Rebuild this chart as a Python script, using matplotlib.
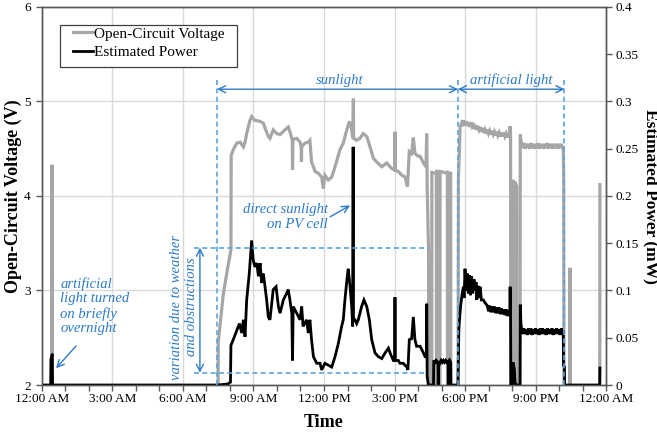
import matplotlib
matplotlib.use("Agg")
import matplotlib.pyplot as plt
from matplotlib.lines import Line2D
from matplotlib.patches import Rectangle

plt.rcParams["font.family"] = ["Liberation Serif", "DejaVu Serif"]

# ---- open-circuit voltage (V) vs. time of day (hours) ----
ocv_hours = [
    0.00, 0.41, 0.43, 0.45,
    7.46, 7.50, 7.57, 7.71, 7.86, 8.00, 8.04, 8.05, 8.14, 8.29, 8.43, 8.57,
    8.64, 8.71, 8.85, 8.92, 9.06, 9.28, 9.42, 9.49, 9.63, 9.70, 9.84, 9.99,
    10.13, 10.34, 10.48, 10.55, 10.65, 10.66, 10.68, 10.84, 10.98, 11.03,
    11.04, 11.05, 11.19, 11.33, 11.40, 11.43, 11.47, 11.55, 11.62, 11.76,
    11.90, 11.97, 12.04, 12.18, 12.33, 12.47, 12.68, 12.82, 12.97, 13.08,
    13.18, 13.23, 13.25, 13.26, 13.39, 13.53, 13.67, 13.82, 13.96, 14.10,
    14.24, 14.46, 14.67, 14.88, 15.01, 15.02, 15.03, 15.16, 15.31, 15.45,
    15.55, 15.63, 15.73, 15.80, 15.87, 16.01, 16.09, 16.23, 16.34, 16.37,
    16.39, 16.43, 16.45, 16.46,
    16.58, 16.59, 16.78, 16.79, 16.80, 16.91, 16.92, 16.94, 17.25, 17.26,
    17.28, 17.39, 17.40,
    17.69, 17.72, 17.77,
    17.79, 17.85, 17.90, 17.95, 18.00, 18.05, 18.10, 18.15, 18.20, 18.25,
    18.30, 18.35, 18.40, 18.45, 18.50, 18.55, 18.60, 18.65, 18.70, 18.75,
    18.80, 18.85, 18.90, 18.95, 19.00, 19.05, 19.10, 19.15, 19.20, 19.25,
    19.30, 19.35, 19.40, 19.45, 19.50, 19.55, 19.60, 19.65, 19.70, 19.75,
    19.80, 19.85, 19.90, 19.92, 19.94, 19.95,
    20.03, 20.04, 20.10, 20.11, 20.13, 20.20, 20.21, 20.34, 20.35, 20.40,
    20.45, 20.50, 20.55, 20.60, 20.65, 20.70, 20.75, 20.80, 20.85, 20.90,
    20.95, 21.00, 21.05, 21.10, 21.15, 21.20, 21.25, 21.30, 21.35, 21.40,
    21.45, 21.50, 21.55, 21.60, 21.65, 21.70, 21.75, 21.80, 21.85, 21.90,
    21.95, 22.00, 22.05, 22.10, 22.15, 22.18, 22.20, 22.22,
    22.46, 22.47, 22.48, 23.73, 23.74,
]
ocv_volts = [
    0.00, 0.00, 4.33, 0.00,
    0.00, 2.45, 2.62, 2.95, 3.18, 3.37, 3.43, 4.43, 4.49, 4.56, 4.57, 4.52,
    4.57, 4.66, 4.80, 4.84, 4.80, 4.79, 4.77, 4.72, 4.63, 4.61, 4.70, 4.66,
    4.65, 4.70, 4.73, 4.68, 4.59, 4.28, 4.60, 4.61, 4.57, 4.52,
    4.36, 4.52, 4.56, 4.57, 4.59, 4.49, 4.36, 4.31, 4.26, 4.24,
    4.20, 4.08, 4.22, 4.17, 4.20, 4.31, 4.49, 4.56, 4.70, 4.79,
    4.70, 4.61, 5.03, 4.61, 4.59, 4.61, 4.66, 4.63, 4.52, 4.40,
    4.36, 4.31, 4.35, 4.29, 4.28, 4.68, 4.27, 4.26, 4.22, 4.20,
    4.10, 4.47, 4.45, 4.62, 4.45, 4.42, 4.42, 4.35, 4.31, 4.66,
    4.10, 3.64, 3.40, 0.00,
    0.00, 4.25, 4.24, 0.00, 4.26, 4.25, 0.00, 4.26, 4.24, 0.00,
    4.25, 4.24, 0.00,
    0.00, 4.20, 4.55,
    4.73, 4.77, 4.74, 4.80, 4.75, 4.79, 4.74, 4.78, 4.73, 4.78,
    4.74, 4.77, 4.71, 4.75, 4.70, 4.74, 4.70, 4.73, 4.68, 4.72,
    4.67, 4.70, 4.66, 4.70, 4.66, 4.69, 4.65, 4.69, 4.65, 4.68,
    4.64, 4.68, 4.64, 4.67, 4.63, 4.67, 4.63, 4.67, 4.63, 4.66,
    4.62, 4.66, 4.62, 4.74, 4.62, 0.00,
    0.00, 4.17, 4.12, 0.00, 4.15, 4.10, 0.00, 0.00, 4.65, 4.55,
    4.51, 4.56, 4.50, 4.55, 4.51, 4.55, 4.50, 4.56, 4.51, 4.55,
    4.50, 4.55, 4.51, 4.56, 4.50, 4.55, 4.51, 4.55, 4.50, 4.55,
    4.51, 4.56, 4.50, 4.55, 4.51, 4.55, 4.50, 4.55, 4.51, 4.55,
    4.50, 4.55, 4.51, 4.55, 4.50, 4.53, 4.17, 0.00,
    0.00, 3.24, 0.00, 0.00, 4.12,
]

# ---- estimated power (mW) vs. time of day (hours) ----
power_hours = [
    0.00, 0.37, 0.38, 0.43, 0.44, 0.45,
    7.46, 7.90, 8.02, 8.04, 8.14, 8.29, 8.40, 8.50, 8.57, 8.64, 8.71, 8.82,
    8.92, 8.99, 9.06, 9.14, 9.21, 9.28, 9.35, 9.42, 9.49, 9.56, 9.63, 9.70,
    9.84, 9.96, 10.06, 10.13, 10.27, 10.41, 10.48, 10.55, 10.63, 10.66,
    10.69, 10.84, 10.98, 11.05, 11.11, 11.26, 11.33, 11.40, 11.47, 11.55,
    11.69, 11.83, 11.90, 12.04, 12.18, 12.33, 12.47, 12.61, 12.75, 12.82,
    12.89, 12.99, 13.03, 13.11, 13.18, 13.22, 13.24, 13.25, 13.32, 13.39,
    13.46, 13.60, 13.70, 13.82, 13.93, 14.03, 14.17, 14.31, 14.46, 14.60,
    14.74, 14.81, 14.95, 15.01, 15.02, 15.03, 15.16, 15.23, 15.37, 15.52,
    15.57, 15.63, 15.73, 15.80, 15.87, 15.94, 16.09, 16.23, 16.30, 16.36,
    16.37, 16.39, 16.44,
    16.66, 16.67, 16.72, 16.77, 16.82, 16.85, 16.86, 16.88, 16.93, 16.98,
    17.03, 17.08, 17.13, 17.18, 17.23, 17.28, 17.29, 17.31, 17.35, 17.39,
    17.40,
    17.70, 17.74, 17.81, 17.87, 17.93, 17.96, 18.00, 18.04, 18.09, 18.14,
    18.19, 18.23, 18.28, 18.33, 18.38, 18.43, 18.47, 18.50, 18.55, 18.60,
    18.64, 18.70, 18.78, 18.85, 18.92,
    18.95, 19.00, 19.05, 19.10, 19.15, 19.20, 19.25, 19.30, 19.35, 19.40,
    19.45, 19.50, 19.55, 19.60, 19.65, 19.70, 19.75, 19.80, 19.85, 19.90,
    19.92, 19.94, 19.95,
    20.03, 20.04, 20.07, 20.10, 20.13, 20.20, 20.34, 20.35, 20.38, 20.42,
    20.45, 20.50, 20.55, 20.60, 20.65, 20.70, 20.75, 20.80, 20.85, 20.90,
    20.95, 21.00, 21.05, 21.10, 21.15, 21.20, 21.25, 21.30, 21.35, 21.40,
    21.45, 21.50, 21.55, 21.60, 21.65, 21.70, 21.75, 21.80, 21.85, 21.90,
    21.95, 22.00, 22.05, 22.10, 22.15, 22.18, 22.19, 22.23, 22.24,
    23.73, 23.74,
]
power_mw = [
    0.000, 0.000, 0.027, 0.032, 0.032, 0.000,
    0.000, 0.001, 0.003, 0.042, 0.048, 0.058, 0.065, 0.055, 0.069, 0.051, 0.090, 0.118,
    0.153, 0.132, 0.125, 0.129, 0.115, 0.129, 0.108, 0.118, 0.104, 0.090, 0.072, 0.069,
    0.101, 0.104, 0.083, 0.076, 0.090, 0.097, 0.101, 0.090, 0.076, 0.026,
    0.083, 0.076, 0.069, 0.083, 0.062, 0.069, 0.055, 0.069, 0.048, 0.030,
    0.023, 0.023, 0.016, 0.023, 0.021, 0.019, 0.030, 0.044, 0.062, 0.069,
    0.090, 0.115, 0.123, 0.104, 0.083, 0.062, 0.252, 0.069, 0.069, 0.065,
    0.069, 0.083, 0.090, 0.083, 0.069, 0.048, 0.034, 0.030, 0.028, 0.034,
    0.039, 0.034, 0.026, 0.026, 0.093, 0.026, 0.026, 0.023, 0.023, 0.019,
    0.016, 0.048, 0.049, 0.072, 0.048, 0.041, 0.041, 0.034, 0.030, 0.030,
    0.086, 0.009, 0.000,
    0.000, 0.026, 0.024, 0.026, 0.024, 0.025, 0.000, 0.025, 0.023, 0.026,
    0.024, 0.026, 0.024, 0.026, 0.024, 0.025, 0.000, 0.024, 0.026, 0.024,
    0.000,
    0.000, 0.060, 0.083, 0.095, 0.104, 0.092, 0.123, 0.100, 0.118, 0.097,
    0.116, 0.095, 0.115, 0.097, 0.112, 0.100, 0.109, 0.090, 0.105, 0.092,
    0.104, 0.090, 0.090, 0.087, 0.085,
    0.084, 0.078, 0.084, 0.077, 0.083, 0.077, 0.083, 0.076, 0.082, 0.076,
    0.082, 0.075, 0.081, 0.075, 0.080, 0.074, 0.080, 0.073, 0.079, 0.073,
    0.104, 0.072, 0.000,
    0.000, 0.024, 0.020, 0.017, 0.002, 0.000, 0.000, 0.085, 0.065, 0.058,
    0.054, 0.060, 0.054, 0.059, 0.053, 0.060, 0.054, 0.060, 0.053, 0.059,
    0.054, 0.060, 0.054, 0.059, 0.053, 0.060, 0.054, 0.060, 0.054, 0.059,
    0.053, 0.060, 0.054, 0.059, 0.054, 0.060, 0.053, 0.059, 0.054, 0.060,
    0.054, 0.059, 0.053, 0.060, 0.054, 0.058, 0.021, 0.019, 0.000,
    0.000, 0.018,
]

hour_ticks = [0, 3, 6, 9, 12, 15, 18, 21, 24]
hour_labels = ["12:00 AM", "3:00 AM", "6:00 AM", "9:00 AM", "12:00 PM",
               "3:00 PM", "6:00 PM", "9:00 PM", "12:00 AM"]
volt_ticks = [2, 3, 4, 5, 6]
power_ticks = [0, 0.05, 0.1, 0.15, 0.2, 0.25, 0.3, 0.35, 0.4]
power_labels = ["0", "0.05", "0.1", "0.15", "0.2", "0.25", "0.3", "0.35", "0.4"]

GRAY = "#A6A6A6"
BLUE = "#2B7BC6"
LIGHT_BLUE = "#5BA3E0"
AXIS = "#595959"
GRID = "#D9D9D9"

fig = plt.figure(figsize=(6.57, 4.34), dpi=100)
ax = fig.add_axes([0.0639, 0.1129, 0.8585, 0.8710])
ax2 = ax.twinx()

ax.plot(ocv_hours, ocv_volts, color=GRAY, lw=2.3, solid_joinstyle="miter",
        label="Open-Circuit Voltage")
ax2.plot(power_hours, power_mw, color="black", lw=2.0, solid_joinstyle="miter",
         label="Estimated Power")

ax.set_xlim(0, 24)
ax.set_ylim(2, 6)
ax2.set_ylim(0, 0.4)

ax.set_xticks(hour_ticks)
ax.set_xticklabels(hour_labels, fontsize=9.5)
ax.set_xticks(range(0, 25), minor=True)
ax.set_yticks(volt_ticks)
ax.set_yticklabels([str(v) for v in volt_ticks], fontsize=9.5)
ax2.set_yticks(power_ticks)
ax2.set_yticklabels(power_labels, fontsize=9.5)

ax.grid(True, which="major", color=GRID, lw=1.0)
ax.set_axisbelow(True)
for a in (ax, ax2):
    for s in a.spines.values():
        s.set_color(AXIS)
        s.set_linewidth(1.0)
ax.tick_params(axis="x", which="both", direction="out", length=4,
               color=AXIS, width=1.0, pad=2)
ax.tick_params(axis="y", direction="out", length=4, color=AXIS, width=1.0, pad=4)
ax2.tick_params(axis="y", direction="out", length=4, color=AXIS, width=1.0, pad=3)

ax.set_xlabel("Time", fontsize=13, fontweight="bold", labelpad=6)
ax.set_ylabel("Open-Circuit Voltage (V)", fontsize=13, fontweight="bold",
              ha="center", va="center")
ax.yaxis.set_label_coords(-0.0514, 0.5)
ax2.set_ylabel("Estimated Power (mW)", fontsize=12.5, fontweight="bold",
               rotation=270, ha="center", va="center")
ax2.yaxis.set_label_coords(1.0785, 0.5)

# legend: entries without frame, plus a fixed box around them
handles = [Line2D([], [], color=GRAY, lw=2.3), Line2D([], [], color="black", lw=2.0)]
ax2.legend(handles, ["Open-Circuit Voltage", "Estimated Power"],
           loc="upper left", bbox_to_anchor=(0.055, 0.947), borderaxespad=0,
           borderpad=0, frameon=False, fontsize=11, handlelength=1.3,
           handletextpad=0.05, labelspacing=0.32)
ax2.add_patch(Rectangle((0.0319, 0.8413), 0.3138, 0.1111, transform=ax2.transAxes,
                        fill=True, facecolor="white", edgecolor="#404040", lw=0.9,
                        zorder=4))
ax2.get_legend().set_zorder(5)

# ---- annotations (drawn in power-axis units) ----
dash = dict(color=LIGHT_BLUE, lw=1.2, ls=(0, (3, 2)), zorder=5)
for h in (7.45, 17.70, 22.23):
    ax2.plot([h, h], [0.0, 0.323], **dash)
ax2.plot([6.45, 16.47], [0.1453, 0.1453], **dash)
ax2.plot([6.45, 16.37], [0.0130, 0.0130], **dash)

arrow2 = dict(arrowstyle="<->,head_length=0.5,head_width=0.25", color=BLUE, lw=1.0,
              shrinkA=0, shrinkB=0)
ax2.annotate("", xy=(7.45, 0.313), xytext=(17.70, 0.313), arrowprops=arrow2, zorder=6)
ax2.annotate("", xy=(17.70, 0.313), xytext=(22.23, 0.313), arrowprops=arrow2, zorder=6)
ax2.annotate("", xy=(6.72, 0.1453), xytext=(6.72, 0.0130), arrowprops=arrow2, zorder=6)

text_kw = dict(color=BLUE, fontsize=10.5, style="italic", zorder=6)
ax2.text(12.68, 0.319, "sunlight", ha="center", va="baseline", **text_kw)
ax2.text(19.96, 0.319, "artificial light", ha="center", va="baseline", **text_kw)
ax2.text(6.04, 0.0825, "variation due to weather\nand obstructions", rotation=90,
         ha="center", va="center", multialignment="center", linespacing=1.15,
         **text_kw)
ax2.text(12.17, 0.178, "direct sunlight\non PV cell", ha="right", va="center",
         multialignment="right", linespacing=1.15, **text_kw)
ax2.text(0.77, 0.0836, "artificial\nlight turned\non briefly\novernight",
         ha="left", va="center", multialignment="left", linespacing=1.15, **text_kw)

arrow1 = dict(arrowstyle="->,head_length=0.5,head_width=0.25", color=BLUE, lw=1.0,
              shrinkA=0, shrinkB=0)
ax2.annotate("", xy=(13.11, 0.190), xytext=(12.26, 0.178), arrowprops=arrow1, zorder=6)
ax2.annotate("", xy=(0.60, 0.0177), xytext=(1.45, 0.0413), arrowprops=arrow1, zorder=6)

fig.savefig("out.png", dpi=100)
